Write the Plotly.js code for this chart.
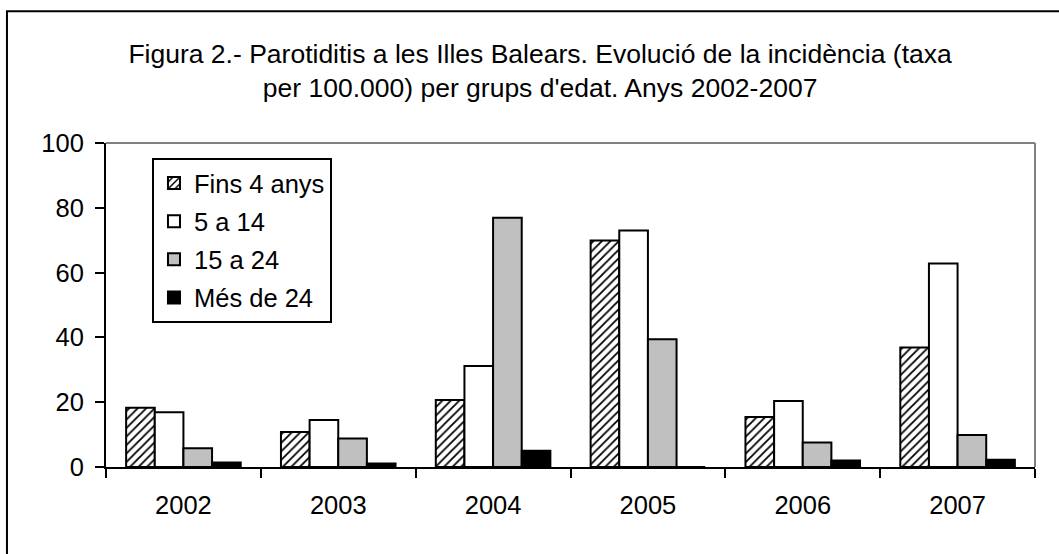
<!DOCTYPE html>
<html>
<head>
<meta charset="utf-8">
<script src="https://cdn.plot.ly/plotly-3.0.1.min.js"></script>
<style>html,body{margin:0;padding:0;background:#fff;}#chart{width:1059px;height:554px;}</style>
</head>
<body>
<div id="chart"></div>
<script>
const years = ['2002', '2003', '2004', '2005', '2006', '2007'];
const seriesNames = ['Fins 4 anys', '5 a 14', '15 a 24', 'Més de 24'];
const fins4 = [18.3, 10.8, 20.7, 69.9, 15.4, 36.9];
const de5a14 = [16.9, 14.5, 31.2, 73.0, 20.4, 62.8];
const de15a24 = [5.8, 8.8, 76.9, 39.4, 7.6, 9.9];
const mesDe24 = [1.4, 1.1, 5.0, 0, 2.0, 2.2];
const yTicks = [0, 20, 40, 60, 80, 100];

const FONT = '"Liberation Sans", Arial, Helvetica, sans-serif';
const FS = 25.5;
const line = {color: '#000', width: 2};

const traces = [
  {name: seriesNames[0], y: fins4, marker: {color: '#fff', line: line, pattern: {shape: '/', fgcolor: '#000', bgcolor: '#fff', size: 6, solidity: 0.3}}},
  {name: seriesNames[1], y: de5a14, marker: {color: '#fff', line: line}},
  {name: seriesNames[2], y: de15a24, marker: {color: '#c0c0c0', line: line}},
  {name: seriesNames[3], y: mesDe24, marker: {color: '#000', line: line}}
].map((t, i) => Object.assign({type: 'bar', x: years, legendgroup: 'g' + i, hoverinfo: 'skip'}, t));

const layout = {
  width: 1059, height: 554,
  margin: {l: 106, r: 24, t: 143, b: 87},
  paper_bgcolor: '#fff', plot_bgcolor: '#fff',
  font: {family: FONT, size: FS, color: '#000'},
  title: {
    text: 'Figura 2.- Parotiditis a les Illes Balears. Evolució de la incidència (taxa<br>per 100.000) per grups d\'edat. Anys 2002-2007',
    font: {family: FONT, size: 26.5, color: '#000'},
    x: 0.51, xref: 'container', xanchor: 'center',
    y: 0.887, yref: 'container', yanchor: 'middle'
  },
  barmode: 'group', bargap: 0.26, bargroupgap: 0,
  showlegend: true,
  legend: {
    x: 0.0495, y: 0.954, xanchor: 'left', yanchor: 'top',
    bgcolor: '#fff', bordercolor: '#000', borderwidth: 2,
    font: {family: FONT, size: FS, color: '#000'},
    tracegroupgap: 2, traceorder: 'grouped', itemwidth: 30
  },
  xaxis: {
    type: 'category', showgrid: false, zeroline: false,
    showline: true, linecolor: '#000', linewidth: 2,
    ticks: 'outside', tickson: 'boundaries', ticklen: 9, tickwidth: 2, tickcolor: '#000',
    ticklabelstandoff: 14,
    tickfont: {family: FONT, size: FS, color: '#000'}
  },
  yaxis: {
    range: [0, 100], tickvals: yTicks, showgrid: false, zeroline: false,
    showline: true, linecolor: '#000', linewidth: 2,
    ticks: 'outside', ticklen: 9, tickwidth: 2, tickcolor: '#000',
    ticklabelstandoff: 6,
    tickfont: {family: FONT, size: FS, color: '#000'}
  },
  shapes: [
    {type: 'line', xref: 'paper', yref: 'paper', x0: 0, x1: 1, y0: 1, y1: 1, line: {color: '#808080', width: 2}},
    {type: 'line', xref: 'paper', yref: 'paper', x0: 1, x1: 1, y0: 0, y1: 1, line: {color: '#808080', width: 2}},
    {type: 'rect', xref: 'paper', yref: 'paper', x0: -0.1066, x1: 1.2, y0: -0.5, y1: 1.407, line: {color: '#000', width: 2}, layer: 'below'}
  ]
};

Plotly.newPlot('chart', traces, layout, {displayModeBar: false, staticPlot: true});
</script>
</body>
</html>
